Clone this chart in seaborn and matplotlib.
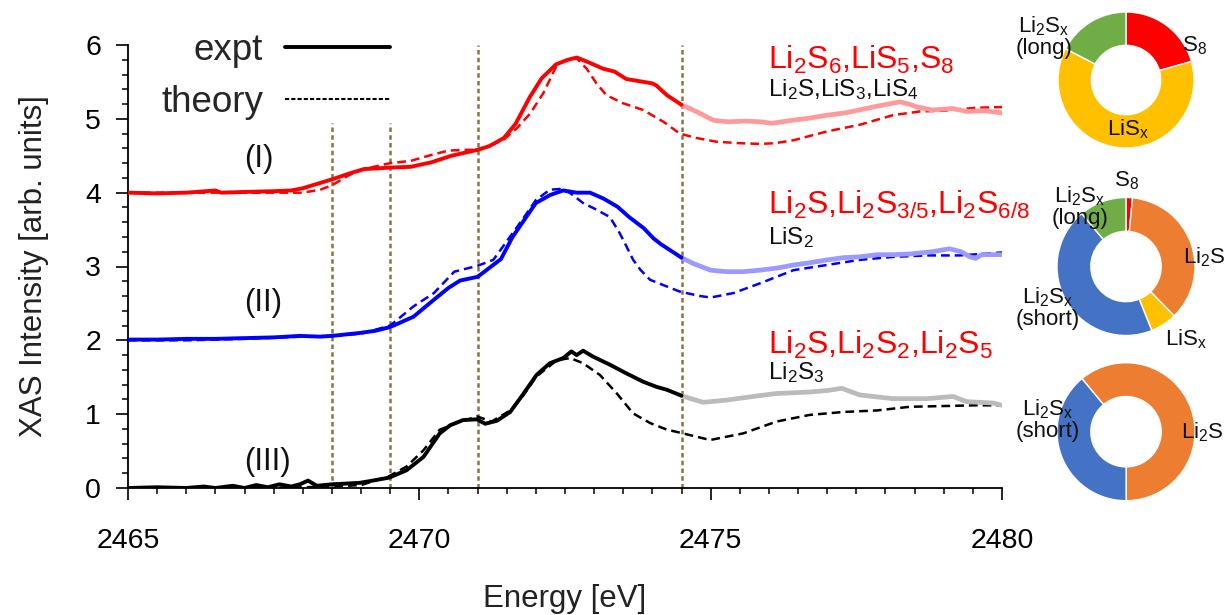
import numpy as np
import pandas as pd
import matplotlib
matplotlib.use("Agg")
import matplotlib.pyplot as plt
from matplotlib.lines import Line2D
from matplotlib.ticker import MultipleLocator
import seaborn as sns

# ---------------- spectra (energy in eV, intensity in arb. units) ----------------
e_expt_1 = [2465.0, 2465.5, 2466.0, 2466.5, 2466.6, 2467.0, 2467.5, 2467.8, 2468.0, 2468.25,
            2468.5, 2468.8, 2469.05, 2469.3, 2469.5, 2469.85, 2470.2, 2470.55, 2471.0, 2471.2,
            2471.45, 2471.65, 2471.9, 2472.1, 2472.35, 2472.55, 2472.7, 2472.8, 2472.95, 2473.15,
            2473.35, 2473.55, 2473.85, 2474.0, 2474.07, 2474.25, 2474.5, 2474.75, 2475.05, 2475.3,
            2475.6, 2475.85, 2476.05, 2476.4, 2476.7, 2477.0, 2477.3, 2477.55, 2477.85, 2478.05,
            2478.25, 2478.4, 2478.55, 2478.8, 2479.15, 2479.4, 2479.7, 2480.0]
i_expt_1 = [4.00, 3.99, 4.00, 4.03, 4.00, 4.01, 4.02, 4.03, 4.06, 4.12,
            4.18, 4.26, 4.32, 4.33, 4.34, 4.35, 4.41, 4.50, 4.58, 4.63,
            4.74, 4.93, 5.30, 5.55, 5.74, 5.80, 5.83, 5.80, 5.75, 5.68,
            5.64, 5.54, 5.50, 5.48, 5.45, 5.32, 5.19, 5.10, 4.98, 4.96,
            4.97, 4.96, 4.94, 4.98, 5.01, 5.05, 5.08, 5.12, 5.17, 5.20,
            5.23, 5.20, 5.16, 5.12, 5.14, 5.10, 5.11, 5.08]

e_theo_1 = [2465.0, 2466.0, 2467.0, 2467.5, 2468.0, 2468.3, 2468.5, 2468.8, 2469.05, 2469.5,
            2469.85, 2470.2, 2470.5, 2470.8, 2471.0, 2471.2, 2471.45, 2471.67, 2471.9, 2472.13,
            2472.36, 2472.53, 2472.7, 2472.87, 2473.04, 2473.21, 2473.5, 2473.84, 2474.19, 2474.47,
            2474.76, 2475.1, 2475.5, 2475.85, 2476.1, 2476.42, 2477.0, 2477.56, 2478.13, 2478.59,
            2479.0, 2479.56, 2480.0]
i_theo_1 = [4.00, 4.00, 4.00, 4.00, 4.00, 4.04, 4.10, 4.24, 4.32, 4.40,
            4.43, 4.51, 4.57, 4.58, 4.58, 4.63, 4.72, 4.87, 5.07, 5.35,
            5.73, 5.80, 5.82, 5.68, 5.48, 5.32, 5.21, 5.12, 4.96, 4.80,
            4.74, 4.69, 4.67, 4.66, 4.67, 4.71, 4.83, 4.92, 5.05, 5.10,
            5.11, 5.15, 5.16]

e_expt_2 = [2465.0, 2465.5, 2466.0, 2466.5, 2467.0, 2467.5, 2467.95, 2468.3, 2468.5, 2468.98,
            2469.25, 2469.5, 2469.9, 2470.25, 2470.5, 2470.7, 2471.0, 2471.2, 2471.4, 2471.6,
            2471.8, 2472.0, 2472.25, 2472.47, 2472.7, 2472.93, 2473.16, 2473.4, 2473.6, 2473.85,
            2474.02, 2474.15, 2474.5, 2474.7, 2475.0, 2475.27, 2475.55, 2475.84, 2476.15, 2476.42,
            2476.7, 2477.0, 2477.28, 2477.55, 2477.85, 2478.15, 2478.42, 2478.8, 2479.1, 2479.3,
            2479.45, 2479.55, 2479.65, 2480.0]
i_expt_2 = [2.01, 2.01, 2.02, 2.02, 2.03, 2.04, 2.06, 2.05, 2.06, 2.10,
            2.13, 2.18, 2.32, 2.55, 2.71, 2.81, 2.86, 2.98, 3.10, 3.40,
            3.63, 3.86, 3.97, 4.03, 4.00, 4.00, 3.92, 3.81, 3.67, 3.52,
            3.38, 3.30, 3.12, 3.04, 2.95, 2.93, 2.93, 2.95, 2.98, 3.02,
            3.05, 3.09, 3.12, 3.13, 3.16, 3.16, 3.17, 3.20, 3.24, 3.20,
            3.13, 3.11, 3.16, 3.16]

e_theo_2 = [2465.0, 2466.0, 2467.0, 2468.0, 2468.5, 2469.0, 2469.5, 2469.9, 2470.25, 2470.6,
            2471.0, 2471.27, 2471.6, 2471.8, 2472.0, 2472.24, 2472.41, 2472.58, 2472.81, 2473.04,
            2473.27, 2473.44, 2473.55, 2473.67, 2473.8, 2473.96, 2474.15, 2474.47, 2474.82, 2475.0,
            2475.39, 2475.84, 2476.42, 2476.99, 2477.56, 2478.13, 2478.71, 2479.28, 2480.0]
i_theo_2 = [2.00, 2.00, 2.02, 2.05, 2.06, 2.09, 2.20, 2.46, 2.64, 2.93,
            3.01, 3.09, 3.45, 3.67, 3.90, 4.04, 4.05, 4.00, 3.86, 3.77,
            3.67, 3.45, 3.28, 3.09, 2.95, 2.82, 2.76, 2.66, 2.60, 2.58,
            2.64, 2.77, 2.95, 3.02, 3.09, 3.13, 3.15, 3.15, 3.19]

e_expt_3 = [2465.0, 2465.5, 2466.0, 2466.3, 2466.5, 2466.8, 2467.0, 2467.2, 2467.4, 2467.6,
            2467.8, 2467.95, 2468.09, 2468.24, 2468.5, 2468.75, 2468.98, 2469.27, 2469.48, 2469.78,
            2470.07, 2470.35, 2470.53, 2470.75, 2470.99, 2471.13, 2471.33, 2471.56, 2471.79, 2472.01,
            2472.24, 2472.47, 2472.61, 2472.7, 2472.81, 2472.98, 2473.27, 2473.56, 2473.84, 2474.07,
            2474.25, 2474.5, 2474.87, 2475.27, 2475.73, 2476.13, 2476.7, 2477.0, 2477.25, 2477.56,
            2478.13, 2478.71, 2479.16, 2479.39, 2479.85, 2480.0]
i_expt_3 = [0.00, 0.01, 0.00, 0.02, 0.00, 0.03, 0.00, 0.04, 0.01, 0.05,
            0.02, 0.05, 0.10, 0.03, 0.05, 0.06, 0.07, 0.11, 0.14, 0.24,
            0.42, 0.74, 0.85, 0.92, 0.93, 0.87, 0.91, 1.03, 1.28, 1.53,
            1.69, 1.76, 1.85, 1.80, 1.86, 1.78, 1.67, 1.55, 1.44, 1.37,
            1.33, 1.25, 1.16, 1.19, 1.24, 1.28, 1.30, 1.32, 1.35, 1.26,
            1.21, 1.21, 1.24, 1.17, 1.15, 1.12]

e_theo_3 = [2465.0, 2466.0, 2467.0, 2468.0, 2468.5, 2469.0, 2469.48, 2469.78, 2470.07, 2470.35,
            2470.64, 2470.99, 2471.24, 2471.56, 2471.79, 2472.01, 2472.36, 2472.59, 2472.81, 2473.1,
            2473.39, 2473.67, 2473.96, 2474.25, 2474.47, 2474.99, 2475.56, 2476.13, 2476.7, 2477.28,
            2477.85, 2478.42, 2478.99, 2479.56, 2480.0]
i_theo_3 = [0.00, 0.00, 0.00, 0.01, 0.02, 0.04, 0.16, 0.29, 0.51, 0.79,
            0.88, 0.97, 0.90, 1.05, 1.26, 1.51, 1.73, 1.76, 1.69, 1.53,
            1.28, 1.01, 0.88, 0.79, 0.75, 0.65, 0.74, 0.90, 0.99, 1.03,
            1.05, 1.10, 1.11, 1.12, 1.12]

# feature energies marked by vertical guides, and how high each guide reaches
guide_energies = [2468.5, 2469.5, 2471.0, 2474.5]
guide_tops = [4.95, 4.95, 6.0, 6.0]
fit_edge = 2474.5  # beyond this energy the experiment is shown faded

series_names = ["(I)", "(II)", "(III)"]
species_main = [r"Li$_2$S$_6$,LiS$_5$,S$_8$",
                r"Li$_2$S,Li$_2$S$_{3/5}$,Li$_2$S$_{6/8}$",
                r"Li$_2$S,Li$_2$S$_2$,Li$_2$S$_5$"]
species_minor = [r"Li$_2$S,LiS$_3$,LiS$_4$",
                 r"LiS$_2$",
                 r"Li$_2$S$_3$"]

# composition donuts (percent)
donut_labels = [["S$_8$", "LiS$_\\mathrm{x}$", "Li$_2$S$_\\mathrm{x}$\n(long)"],
                ["S$_8$", "Li$_2$S", "LiS$_\\mathrm{x}$", "Li$_2$S$_\\mathrm{x}$\n(short)", "Li$_2$S$_\\mathrm{x}$\n(long)"],
                ["Li$_2$S", "Li$_2$S$_\\mathrm{x}$\n(short)"]]
donut_values = [[20.6, 62.0, 17.4],
                [1.5, 36.2, 6.2, 45.0, 11.1],
                [61.0, 39.0]]

# ---------------- styling ----------------
sns.set_theme(style="ticks")
plt.rcParams["font.family"] = ["Liberation Sans", "DejaVu Sans"]
plt.rcParams["mathtext.fontset"] = "custom"
plt.rcParams["mathtext.rm"] = "Liberation Sans"
plt.rcParams["mathtext.it"] = "Liberation Sans:italic"
plt.rcParams["mathtext.default"] = "regular"

strong = ["#ff0000", "#0000ff", "#000000"]
faded = ["#ff9a9a", "#9a9aff", "#bbbbbb"]
slice_colors = {"S8": "#ff0000", "LiSx": "#ffc000", "long": "#70ad47",
                "Li2S": "#ed7d31", "short": "#4472c4"}
donut_colors = [[slice_colors["S8"], slice_colors["LiSx"], slice_colors["long"]],
                [slice_colors["S8"], slice_colors["Li2S"], slice_colors["LiSx"],
                 slice_colors["short"], slice_colors["long"]],
                [slice_colors["Li2S"], slice_colors["short"]]]
guide_color = "#8b7444"
DASH = (0, (3.5, 2.0))

W, H = 1227, 615
fig = plt.figure(figsize=(W / 100, H / 100), dpi=100)
ax = fig.add_axes([128 / W, 1 - 488 / H, (1002 - 128) / W, (488 - 45) / H])

expts = [(e_expt_1, i_expt_1), (e_expt_2, i_expt_2), (e_expt_3, i_expt_3)]
theos = [(e_theo_1, i_theo_1), (e_theo_2, i_theo_2), (e_theo_3, i_theo_3)]

for k in range(3):
    ex = pd.DataFrame({"E": expts[k][0], "I": expts[k][1]})
    th = pd.DataFrame({"E": theos[k][0], "I": theos[k][1]})
    sns.lineplot(data=th, x="E", y="I", ax=ax, color=strong[k], linewidth=1.8,
                 linestyle=DASH, sort=False, zorder=3)
    sns.lineplot(data=ex[ex["E"] >= fit_edge], x="E", y="I", ax=ax, color=faded[k],
                 linewidth=3.4, sort=False, zorder=4)
    sns.lineplot(data=ex[ex["E"] <= fit_edge], x="E", y="I", ax=ax, color=strong[k],
                 linewidth=2.8, sort=False, zorder=5)

for xg, yt in zip(guide_energies, guide_tops):
    ax.vlines(xg, 0, yt, colors=guide_color, linewidth=1.8,
              linestyles=[(0, (1.8, 1.3))], zorder=2)

ax.set_xlim(2465, 2480)
ax.set_ylim(0, 6)
ax.xaxis.set_major_locator(MultipleLocator(5))
ax.xaxis.set_minor_locator(MultipleLocator(0.5))
ax.yaxis.set_major_locator(MultipleLocator(1))
ax.yaxis.set_minor_locator(MultipleLocator(0.2))
ax.tick_params(which="major", direction="out", length=8.5, width=1.2, labelsize=20.5,
               color="black", labelcolor="black")
ax.tick_params(which="minor", direction="out", length=4.3, width=1.1, color="black")
ax.tick_params(axis="x", which="major", pad=20)
ax.tick_params(axis="y", which="major", pad=11)
for s in ["left", "bottom"]:
    ax.spines[s].set_color("black")
    ax.spines[s].set_linewidth(1.3)
sns.despine(ax=ax)
ax.set_xlabel("Energy [eV]", fontsize=22.5, labelpad=22, color="#222222")
ax.set_ylabel("XAS Intensity [arb. units]", fontsize=22.5, labelpad=26, color="#222222")

# series tags and assigned species
tag_pos = [(2467.25, 4.46), (2467.32, 2.51), (2467.40, 0.35)]
main_y = [5.80, 3.83, 1.94]
minor_y = [5.39, 3.39, 1.56]
for k in range(3):
    ax.text(tag_pos[k][0], tag_pos[k][1], series_names[k], fontsize=22.5,
            ha="center", va="center", color="#111111")
    ax.text(2475.98, main_y[k], species_main[k], fontsize=23, color="#ff0000",
            ha="left", va="center")
    ax.text(2475.98, minor_y[k], species_minor[k], fontsize=17.5, color="#111111",
            ha="left", va="center")

handles = [Line2D([], [], color="black", linewidth=2.8),
           Line2D([], [], color="black", linewidth=1.5, linestyle=(0, (2, 1)))]
ax.legend(handles, ["expt", "theory"], loc="upper right", bbox_to_anchor=(0.30, 1.027),
          frameon=False, markerfirst=False, fontsize=26.5, handlelength=2.85,
          handletextpad=0.6, labelspacing=0.46, borderpad=0, borderaxespad=0)

# composition donuts at the right
centers = [(1126, 80, 68), (1126, 266.5, 69), (1126, 431.7, 69)]
starts = [90, 90, 129.7]
label_offsets = [[(1.01, 0.50), (0.03, -0.72), (-1.21, 0.63)],
                 [(0.0, 1.25), (1.14, 0.14), (0.87, -1.05), (-1.13, -0.60), (-0.67, 0.86)],
                 [(1.10, 0.0), (-1.13, 0.17)]]
for k, (cx, cy, r) in enumerate(centers):
    dax = fig.add_axes([(cx - r) / W, 1 - (cy + r) / H, 2 * r / W, 2 * r / H])
    dax.pie(donut_values[k], colors=donut_colors[k], startangle=starts[k],
            counterclock=False, radius=1.0,
            wedgeprops=dict(width=0.49, edgecolor="white", linewidth=1.0))
    dax.set_xlim(-1, 1)
    dax.set_ylim(-1, 1)
    dax.set_aspect("equal")
    dax.axis("off")
    for lab, (dx, dy) in zip(donut_labels[k], label_offsets[k]):
        dax.text(dx, dy, lab, fontsize=16, ha="center", va="center",
                 color="#111111", linespacing=1.0, clip_on=False)

fig.savefig("out.png", dpi=100)
